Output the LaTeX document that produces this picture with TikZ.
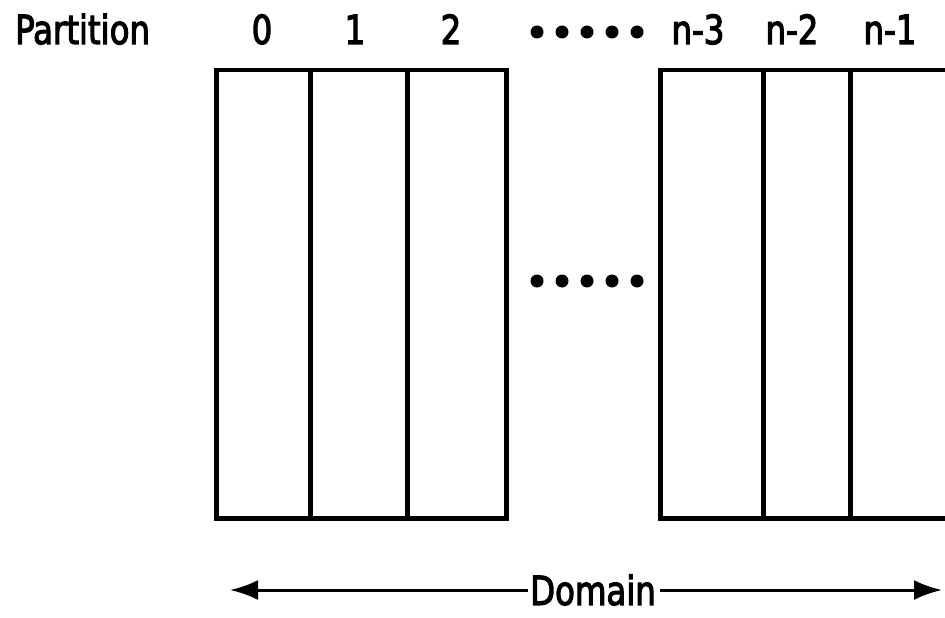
\documentclass[tikz,border=0pt]{standalone}
\usepackage{fontspec}
\setmainfont{DejaVu Sans Condensed}
\newfontfamily\letfont[FakeBold=3]{DejaVu Sans Condensed}
\usetikzlibrary{arrows.meta}
\newcommand{\lettering}[1]{\scalebox{0.9}[1]{\letfont #1}}
\tikzset{
  part/.style={draw, line width=4.5pt, minimum height=448pt, inner sep=0pt, anchor=north west},
  lbl/.style={font=\fontsize{40}{42}\selectfont, anchor=base, inner sep=0pt},
  dotmark/.style={circle, fill=black, inner sep=0pt, minimum size=13pt},
  arr/.style={line width=3pt, -{Latex[length=28pt,width=20pt]}}
}
\begin{document}
\begin{tikzpicture}[x=1pt,y=-1pt]
\useasboundingbox (0,0) rectangle (945,618);
\clip (0,0) rectangle (945,618);
% partitions
\node[part, minimum width=94pt] (p0) at (214,68) {};
\node[part, minimum width=97pt] (p1) at (308,68) {};
\node[part, minimum width=99pt] (p2) at (405,68) {};
\node[part, minimum width=103pt] (q3) at (658,68) {};
\node[part, minimum width=87pt] (q2) at (761,68) {};
\node[part, minimum width=120pt] (q1) at (848,68) {};
% labels
\node[lbl, anchor=base west] (ptl) at (15,44) {\lettering{Partition}};
\node[lbl] (l0) at (262,44) {\lettering{0}};
\node[lbl] (l1) at (355,44) {\lettering{1}};
\node[lbl] (l2) at (451,44) {\lettering{2}};
\node[lbl] (l3) at (698,44) {\lettering{n-3}};
\node[lbl] (l4) at (792,44) {\lettering{n-2}};
\node[lbl] (l5) at (890,44) {\lettering{n-1}};
% dots
\foreach \i in {0,...,4} {
  \node[dotmark] (td\i) at ({537+\i*25},32) {};
  \node[dotmark] (md\i) at ({537+\i*25},281) {};
}
% domain arrow
\node[lbl, anchor=center] (dom) at (593,590) {\lettering{Domain}};
\coordinate (la) at (230,590);
\coordinate (ra) at (942,590);
\draw[arr] ([xshift=-2pt]dom.west) -- (la);
\draw[arr] ([xshift=4pt]dom.east) -- (ra);
\end{tikzpicture}
\end{document}
